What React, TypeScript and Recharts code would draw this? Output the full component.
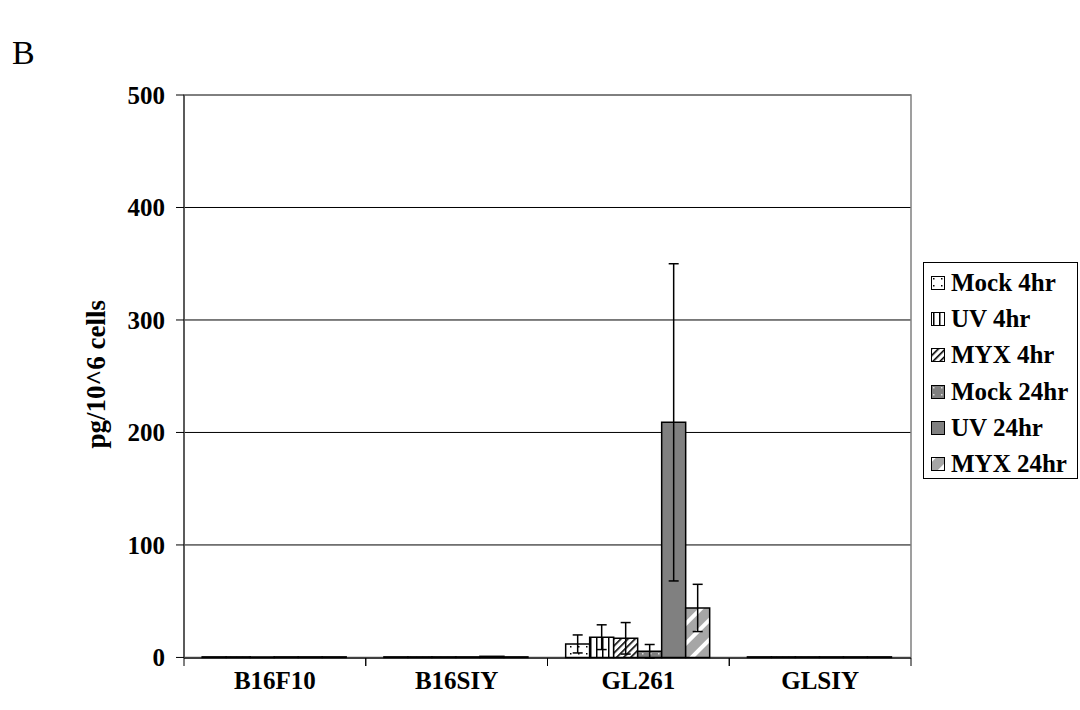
import React from 'react';
import { BarChart, Bar, XAxis, YAxis, CartesianGrid, ErrorBar, ReferenceArea } from 'recharts';

const categories = ['B16F10', 'B16SIY', 'GL261', 'GLSIY'];
const seriesNames = ['Mock 4hr', 'UV 4hr', 'MYX 4hr', 'Mock 24hr', 'UV 24hr', 'MYX 24hr'];
const mock4hr = [0.5, 0.5, 12, 0.5];
const uv4hr = [0.5, 0.5, 18, 0.5];
const myx4hr = [0.5, 0.5, 17, 0.5];
const mock24hr = [0.5, 0.5, 5.5, 0.5];
const uv24hr = [0.5, 1, 209, 0.5];
const myx24hr = [0.5, 0.5, 44, 0.5];
const mock4hrErr = [null, null, 8, null];
const uv4hrErr = [null, null, 11, null];
const myx4hrErr = [null, null, 14, null];
const mock24hrErr = [null, null, 6, null];
const uv24hrErr = [null, null, 141, null];
const myx24hrErr = [null, null, 21, null];
const yTicks = [0, 100, 200, 300, 400, 500];

const values = [mock4hr, uv4hr, myx4hr, mock24hr, uv24hr, myx24hr];
const errors = [mock4hrErr, uv4hrErr, myx4hrErr, mock24hrErr, uv24hrErr, myx24hrErr];
const patternIds = ['pMock4', 'pUv4', 'pMyx4', 'pMock24', 'pUv24', 'pMyx24'];

const data = categories.map((c, i) => {
  const row: any = { name: c };
  values.forEach((v, s) => {
    row['s' + s] = v[i];
    row['e' + s] = errors[s][i];
  });
  return row;
});

const FONT = '"Liberation Serif", "Times New Roman", serif';

const Patterns = () => (
  <defs>
    <pattern id="pMock4" width="8" height="7" patternUnits="userSpaceOnUse">
      <rect width="8" height="7" fill="#fff" />
      <rect x="2" y="2" width="1.5" height="1.5" fill="#000" />
    </pattern>
    <pattern id="pUv4" width="6" height="6" patternUnits="userSpaceOnUse">
      <rect width="6" height="6" fill="#fff" />
      <rect x="2" y="0" width="1.5" height="6" fill="#000" />
    </pattern>
    <pattern id="pMyx4" width="5" height="5" patternUnits="userSpaceOnUse" patternTransform="rotate(45)">
      <rect width="5" height="5" fill="#fff" />
      <rect x="0" y="0" width="1.6" height="5" fill="#000" />
    </pattern>
    <pattern id="pMock24" width="8" height="7" patternUnits="userSpaceOnUse">
      <rect width="8" height="7" fill="#808080" />
      <rect x="2" y="2" width="1.5" height="1.5" fill="#ddd" />
    </pattern>
    <pattern id="pUv24" width="6" height="6" patternUnits="userSpaceOnUse">
      <rect width="6" height="6" fill="#808080" />
    </pattern>
    <pattern id="pMyx24" width="14" height="14" patternUnits="userSpaceOnUse" patternTransform="rotate(45)">
      <rect width="14" height="14" fill="#a6a6a6" />
      <rect x="0" y="0" width="4" height="14" fill="#fff" />
    </pattern>
  </defs>
);

const CategoryTick = (props: any) => {
  const { x, y, payload } = props;
  const half = payload && payload.offset ? payload.offset : 90.75;
  return (
    <g>
      <line x1={x - half} x2={x - half} y1={y - 8} y2={y} stroke="#000" strokeWidth={1} />
      <line x1={x + half} x2={x + half} y1={y - 8} y2={y} stroke="#000" strokeWidth={1} />
      <text x={x} y={y + 23} textAnchor="middle" fontFamily={FONT} fontWeight="bold" fontSize={25} fill="#000">
        {payload.value}
      </text>
    </g>
  );
};

const LegendBox = () => (
  <div
    style={{
      position: 'absolute',
      left: 923,
      top: 262,
      width: 155,
      height: 217,
      border: '1px solid #000',
      background: '#fff',
      boxSizing: 'border-box',
      paddingTop: 2,
      fontFamily: FONT,
      fontWeight: 'bold',
      fontSize: 25,
    }}
  >
    {seriesNames.map((n, i) => (
      <div key={n} style={{ display: 'flex', alignItems: 'center', height: 36.2, paddingLeft: 7 }}>
        <svg width={14} height={14} style={{ marginRight: 6, flexShrink: 0 }}>
          <rect x={0.5} y={0.5} width={13} height={13} fill={`url(#${patternIds[i]})`} stroke="#000" />
        </svg>
        <span style={{ whiteSpace: 'nowrap' }}>{n}</span>
      </div>
    ))}
  </div>
);

export default function App() {
  return (
    <div style={{ position: 'absolute', left: 0, top: 0, width: 1080, height: 710, background: '#fff' }}>
      <div style={{ position: 'absolute', left: 12, top: 34, fontFamily: FONT, fontSize: 34 }}>B</div>
      <BarChart
        width={1080}
        height={710}
        data={data}
        margin={{ top: 95, right: 169, bottom: 12, left: 84 }}
        barCategoryGap="10%"
        barGap={0}
      >
        <Patterns />
        <ReferenceArea y1={0} y2={500} fill="none" stroke="#808080" strokeWidth={1.5} ifOverflow="extendDomain" />
        <CartesianGrid vertical={false} stroke="#000" strokeWidth={1} />
        <XAxis
          dataKey="name"
          height={40}
          axisLine={{ stroke: '#000' }}
          tickLine={false}
          tickSize={8}
          tickMargin={0}
          tick={<CategoryTick />}
          interval={0}
        />
        <YAxis
          width={100}
          domain={[0, 500]}
          ticks={yTicks}
          interval={0}
          axisLine={{ stroke: '#444', strokeWidth: 1.5 }}
          tickLine={{ stroke: '#000' }}
          tickSize={8}
          tickMargin={11}
          tick={{ fill: '#000', fontFamily: FONT, fontWeight: 'bold', fontSize: 25 }}
          label={{
            value: 'pg/10^6 cells',
            angle: -90,
            position: 'insideLeft',
            offset: 11,
            dy: 72,
            style: { fill: '#000', fontFamily: FONT, fontWeight: 'bold', fontSize: 27 },
          }}
        />
        {seriesNames.map((n, i) => (
          <Bar
            key={n}
            dataKey={'s' + i}
            name={n}
            fill={`url(#${patternIds[i]})`}
            stroke="#000"
            strokeWidth={1.5}
            isAnimationActive={false}
          >
            <ErrorBar dataKey={'e' + i} width={5} stroke="#000" strokeWidth={1.5} direction="y" />
          </Bar>
        ))}
      </BarChart>
      <LegendBox />
    </div>
  );
}
